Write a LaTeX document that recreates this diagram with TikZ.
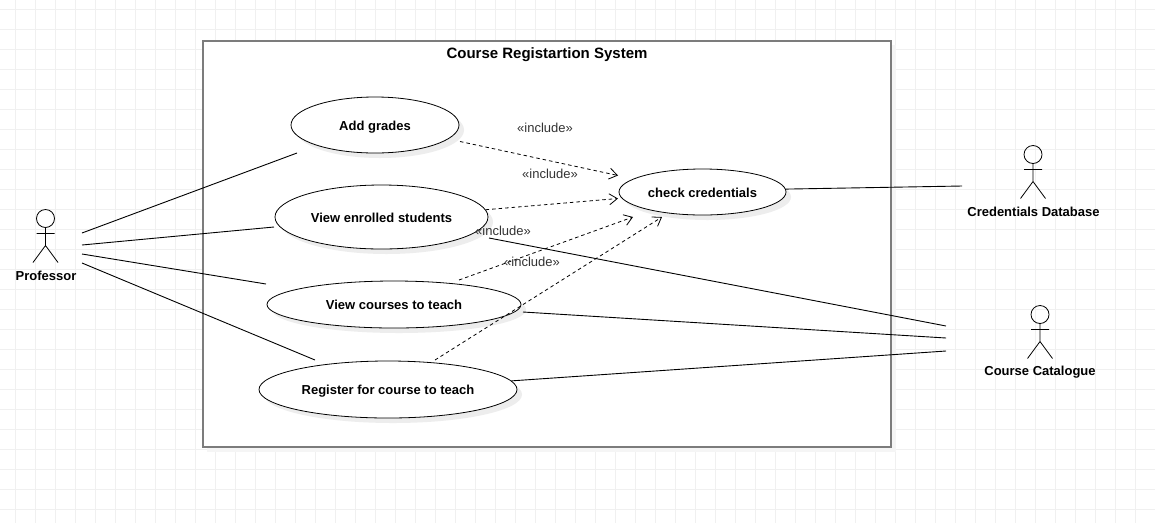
\documentclass[tikz,border=0pt]{standalone}
\usepackage{fontspec}
\setmainfont{Liberation Sans}
\usetikzlibrary{shapes.geometric,shadows,arrows.meta}
\definecolor{gridgray}{HTML}{F0F0F0}
\definecolor{framegray}{HTML}{7C7C7C}
\definecolor{shadegray}{HTML}{EDEDED}
\definecolor{paleshade}{HTML}{F5F5F5}
\tikzset{
    gridline/.style={draw=gridgray,line width=0.8pt},
    usecase/.style={ellipse,draw=black,fill=white,line width=0.8pt,inner sep=0pt,
        text height=10pt,text depth=0pt,
        drop shadow={shadow xshift=5pt,shadow yshift=-5pt,fill=shadegray,opacity=1},
        font=\fontsize{13}{15}\selectfont\bfseries},
    actorname/.style={font=\fontsize{13}{15}\selectfont\bfseries},
    stereotype/.style={text=black!80,font=\fontsize{13}{15}\selectfont},
    assoc/.style={draw=black,line width=0.9pt},
    includes/.style={draw=black,line width=0.8pt,dash pattern=on 3.5pt off 3pt,
        -{Straight Barb[length=8pt,width=11pt]}},
    actor/.pic={
        \draw[line width=0.8pt] (0,-9) circle (9)
            (0,0) -- (0,18) (-9,6) -- (9,6)
            (-12.5,35) -- (0,18) -- (12.5,35);
    }
}
\begin{document}
\begin{tikzpicture}[x=1pt,y=-1pt]
    \useasboundingbox[fill=white] (0,0) rectangle (1155,523);
    \foreach \gx in {0,...,57} \draw[gridline] (15.5+20*\gx,0) -- (15.5+20*\gx,523);
    \foreach \gy in {0,...,25} \draw[gridline] (0,9.5+20*\gy) -- (1155,9.5+20*\gy);
    % system frame
    \fill[paleshade] (207,45) rectangle (896,452);
    \draw[draw=framegray,fill=white,line width=1.5pt] (203,41) rectangle (891,447);
    \node[font=\fontsize{15}{17}\selectfont\bfseries] (TITLE) at (547,55) {Course Registartion System};
    % use cases
    \node[usecase,minimum width=168pt,minimum height=56pt] (AG) at (375,125) {Add grades};
    \node[usecase,minimum width=213pt,minimum height=64pt] (VE) at (381.5,217) {View enrolled students};
    \node[usecase,minimum width=254pt,minimum height=47pt] (VC) at (394,304.5) {View courses to teach};
    \node[usecase,minimum width=258pt,minimum height=57pt] (RC) at (388,389.5) {Register for course to teach};
    \node[usecase,minimum width=167pt,minimum height=46pt] (CK) at (702.5,192) {check credentials};
    % actors
    \pic at (45.5,227.5) {actor};
    \pic at (1033,163.5) {actor};
    \pic at (1040,323.5) {actor};
    \node[actorname] (PROF) at (46,276) {Professor};
    \node[actorname] (CRED) at (1033.5,212) {Credentials Database};
    \node[actorname] (CATA) at (1040,372) {Course Catalogue};
    % free ends
    \coordinate (P1) at (82,233);
    \coordinate (P2) at (82,245);
    \coordinate (P3) at (82,254);
    \coordinate (P4) at (82,263);
    \coordinate (A1) at (297,153);
    \coordinate (A2) at (274,227);
    \coordinate (A3) at (266,284);
    \coordinate (A4) at (315,360);
    \coordinate (D1) at (962,186);
    \coordinate (C1) at (946,326);
    \coordinate (C2) at (946,338);
    \coordinate (C3) at (946,351);
    \coordinate (V1) at (489,238);
    \coordinate (V2) at (523,312);
    \coordinate (I1) at (618,175.5);
    \coordinate (I2) at (618,198.5);
    \coordinate (I3) at (633,217);
    \coordinate (I4) at (662,217);
    \coordinate (S1) at (460,141.5);
    \coordinate (S3) at (459,280);
    \coordinate (S4) at (435,360);
    % associations
    \draw[assoc] (P1) -- (A1);
    \draw[assoc] (P2) -- (A2);
    \draw[assoc] (P3) -- (A3);
    \draw[assoc] (P4) -- (A4);
    \draw[assoc] (CK.2) -- (D1);
    \draw[assoc] (V1) -- (C1);
    \draw[assoc] (V2) -- (C2);
    \draw[assoc] (RC.4) -- (C3);
    % include arrows
    \draw[includes] (S1) -- (I1);
    \draw[includes] (VE.4) -- (I2);
    \draw[includes] (S3) -- (I3);
    \draw[includes] (S4) -- (I4);
    \node[stereotype] (L1) at (545,128) {«include»};
    \node[stereotype] (L2) at (550,174) {«include»};
    \node[stereotype] (L3) at (503,231) {«include»};
    \node[stereotype] (L4) at (532,262) {«include»};
\end{tikzpicture}
\end{document}
